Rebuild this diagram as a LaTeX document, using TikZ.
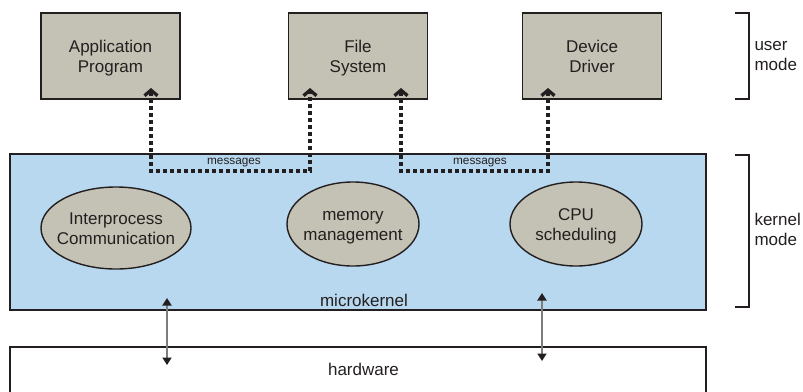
\documentclass[tikz,border=0pt]{standalone}
\usepackage{fontspec}
\setmainfont{Liberation Sans}
\usetikzlibrary{arrows.meta,shapes.geometric}
\definecolor{boxgray}{RGB}{196,194,180}
\definecolor{kblue}{RGB}{184,216,240}
\definecolor{ink}{RGB}{35,31,32}
\definecolor{shaft}{RGB}{125,125,125}
\newcommand\mytopstrut{\rule{0pt}{18pt}}
\begin{document}
\begin{tikzpicture}[x=1pt,y=-1pt,
  every node/.style={text=ink, font=\fontsize{17}{20}\selectfont},
  userbox/.style={draw=ink, fill=boxgray, line width=1.4pt, minimum width=139pt, minimum height=86pt, align=center, inner sep=0pt},
  kbox/.style={draw=ink, fill=kblue, line width=1.4pt, minimum width=696pt, minimum height=156pt, inner sep=0pt},
  service/.style={ellipse, draw=ink, fill=boxgray, line width=1.4pt, align=center, inner xsep=-12pt, inner ysep=0pt},
  msg/.style={draw=ink, line width=3.3pt, dash pattern=on 4.5pt off 2.5pt, {Straight Barb[length=5.5pt,width=13pt]}-{Straight Barb[length=5.5pt,width=13pt]}},
  msglabel/.style={font=\fontsize{11.8}{13}\selectfont, anchor=base},
  hwarrow/.style={draw=shaft, line width=1.8pt, {Triangle[length=7.5pt,width=9pt,color=ink]}-{Triangle[length=7.5pt,width=9pt,color=ink]}},
  bracket/.style={draw=ink, line width=1.3pt},
  modelabel/.style={anchor=west, align=left}]
\useasboundingbox (0,0) rectangle (803,391);
% user-mode boxes
\node[userbox] (app) at (110.5,56) {\mytopstrut Application\\\strut Program};
\node[userbox] (fs) at (358,56) {\mytopstrut File\\\strut System};
\node[userbox] (dd) at (592,56) {\mytopstrut Device\\\strut Driver};
% microkernel
\node[kbox] (kernel) at (358,232) {};
\node[anchor=base] (mk) at (364,306) {microkernel};
% hardware (open at bottom)
\draw[draw=ink, line width=1.4pt] (10,395) -- (10,347) -- (706,347) -- (706,395);
\node[anchor=base] (hw) at (363.5,375.5) {hardware};
% kernel services
\node[service, minimum width=150pt, minimum height=82pt] (ipc) at (116,228) {\mytopstrut Interprocess\\\strut Communication};
\node[service, minimum width=132pt, minimum height=84pt] (mem) at (353,224) {\mytopstrut memory\\\strut management};
\node[service, minimum width=132pt, minimum height=84pt] (cpu) at (576,224) {\mytopstrut CPU\\\strut scheduling};
% message paths
\coordinate (t1) at (151,88);
\coordinate (t2) at (310,88);
\coordinate (t3) at (401,88);
\coordinate (t4) at (548,88);
\draw[msg] (t1) -- (151,171) -- (310,171) -- (t2);
\draw[msg] (t3) -- (401,171) -- (548,171) -- (t4);
\node[msglabel] (ml1) at (234,164) {messages};
\node[msglabel] (ml2) at (480,164) {messages};
% kernel-hardware arrows
\coordinate (k1) at (167,298);
\coordinate (h1) at (167,365);
\coordinate (k2) at (542,293);
\coordinate (h2) at (542,361);
\draw[hwarrow] (k1) -- (h1);
\draw[hwarrow] (k2) -- (h2);
% mode brackets
\draw[bracket] (735,13) -- (749,13) -- (749,99) -- (735,99);
\draw[bracket] (735,155) -- (749,155) -- (749,307) -- (735,307);
\node[modelabel] (um) at (751,56) {user\\mode};
\node[modelabel] (km) at (751,229) {kernel\\mode};
\end{tikzpicture}
\end{document}
